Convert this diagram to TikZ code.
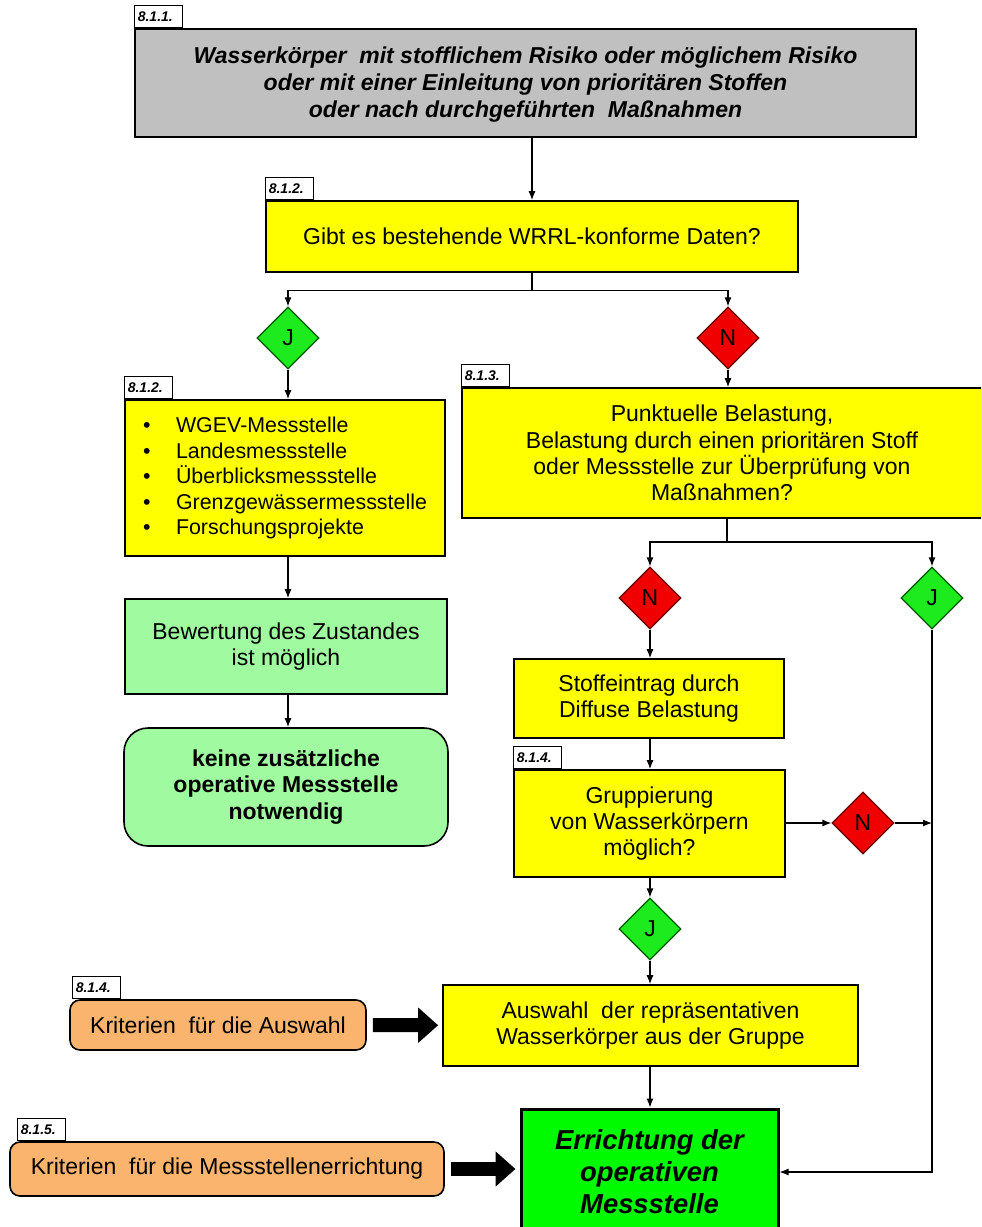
\documentclass[tikz,border=0pt]{standalone}
\usepackage{fontspec}
\setmainfont{Liberation Sans}
\usepackage{tikz}
\usetikzlibrary{positioning, shapes.geometric, arrows.meta}

\definecolor{boxgray}{RGB}{192,192,192}
\definecolor{boxyellow}{RGB}{255,255,0}
\definecolor{boxpale}{RGB}{160,250,160}
\definecolor{boxorange}{RGB}{250,180,110}
\definecolor{boxgreen}{RGB}{0,250,0}
\definecolor{decj}{RGB}{30,235,30}
\definecolor{decn}{RGB}{240,0,0}

\tikzset{
  box/.style={draw, line width=0.8pt, align=center, inner sep=2pt, font=\fontsize{11.5}{13.2}\selectfont},
  tab/.style={draw, fill=white, line width=0.6pt, anchor=south west, inner sep=1.5pt, text width=21pt, minimum height=11pt, align=left, font=\fontsize{7}{7.5}\selectfont\bfseries\itshape},
  dec/.style={diamond, draw, line width=0.6pt, minimum width=31pt, minimum height=31pt, inner sep=0pt, font=\fontsize{11.5}{13}\selectfont},
  decyes/.style={dec, fill=decj, draw=green!35!black},
  decno/.style={dec, fill=decn, draw=red!40!black},
  conn/.style={line width=0.6pt, -{Latex[length=4.5pt,width=3.5pt]}},
  bigarrow/.style={line width=7pt, -{Triangle[length=10pt,width=17pt]}}
}

\begin{document}
\begin{tikzpicture}[x=0.5pt,y=-0.5pt]
\clip (0,0) rectangle (981,1227);

% top of the chart
\node[box, fill=boxgray, minimum width=390.5pt, minimum height=54pt, font=\fontsize{11.5}{13.5}\selectfont\bfseries\itshape] (start) at (525.5,83) {\strut Wasserkörper~ mit stofflichem Risiko oder möglichem Risiko\\oder mit einer Einleitung von prioritären Stoffen\\oder nach durchgeführten~ Maßnahmen};
\node[tab] (t811) at (start.north west) {8.1.1.};

\node[box, fill=boxyellow, minimum width=266pt, minimum height=35.5pt] (daten) at (532,236.5) {Gibt es bestehende WRRL-konforme Daten?};
\node[tab] (t812a) at (daten.north west) {8.1.2.};

\node[decyes] (j1) at (288,338) {J};
\node[decno] (n1) at (728,338) {N};

% left branch
\node[box, fill=boxyellow, minimum width=160pt, minimum height=78pt, align=left, font=\fontsize{10.7}{12.75}\selectfont] (liste) at (285,478) {\textbullet\hspace{12.75pt}WGEV-Messstelle\\\textbullet\hspace{12.75pt}Landesmessstelle\\\textbullet\hspace{12.75pt}Überblicksmessstelle\\\textbullet\hspace{12.75pt}Grenzgewässermessstelle\\\textbullet\hspace{12.75pt}Forschungsprojekte};
\node[tab] (t812b) at (liste.north west) {8.1.2.};

\node[box, fill=boxpale, minimum width=161pt, minimum height=47.5pt] (bewert) at (286,646.5) {Bewertung des Zustandes\\ist möglich};
\node[box, fill=boxpale, rounded corners=12pt, minimum width=162pt, minimum height=59pt, font=\fontsize{11.5}{13.2}\selectfont\bfseries] (keine) at (286,787) {keine zusätzliche\\operative Messstelle\\notwendig};

% right branch
\node[box, fill=boxyellow, minimum width=260pt, minimum height=65pt] (punkt) at (722,453) {Punktuelle Belastung,\\Belastung durch einen prioritären Stoff\\oder Messstelle zur Überprüfung von\\Maßnahmen?};
\node[tab] (t813) at (punkt.north west) {8.1.3.};

\coordinate (split) at (727,542);
\node[decno] (n2) at (650,598) {N};
\node[decyes] (j2) at (932,598) {J};

\node[box, fill=boxyellow, minimum width=135pt, minimum height=39.5pt] (diffus) at (649,698.5) {Stoffeintrag durch\\Diffuse Belastung};
\node[box, fill=boxyellow, minimum width=135.5pt, minimum height=53.5pt] (grupp) at (649.5,823.5) {Gruppierung\\von Wasserkörpern\\möglich?};
\node[tab] (t814a) at (grupp.north west) {8.1.4.};

\node[decno] (n3) at (863,823) {N};
\node[decyes] (j3) at (650,929) {J};

\node[box, fill=boxyellow, minimum width=207.5pt, minimum height=40.5pt] (auswahl) at (650.5,1025.5) {Auswahl~ der repräsentativen\\Wasserkörper aus der Gruppe};
\node[box, fill=boxgreen, line width=1.5pt, minimum width=128.5pt, minimum height=63pt, font=\fontsize{13.7}{16}\selectfont\bfseries\itshape] (errich) at (649.5,1172) {Errichtung der\\operativen\\Messstelle};

% criteria
\node[box, fill=boxorange, rounded corners=5pt, minimum width=148pt, minimum height=25pt] (krit1) at (218,1025) {Kriterien~ für die Auswahl};
\node[tab, xshift=1.5pt] (t814b) at (krit1.north west) {8.1.4.};
\node[box, fill=boxorange, rounded corners=5pt, minimum width=217pt, minimum height=27pt] (krit2) at (227,1169) {Kriterien~ für die Messstellenerrichtung};
\node[tab, xshift=4pt] (t815) at (krit2.north west) {8.1.5.};

% connectors
\draw[conn] (daten.north |- start.south) -- (daten.north);
\draw[conn] (daten.south) -- ++(0,18) -| (j1.north);
\draw[conn] (daten.south) -- ++(0,18) -| (n1.north);
\draw[conn] (j1.south) -- (j1.south |- liste.north);
\draw[conn] (n1.south) -- (n1.south |- punkt.north);
\draw[conn] (liste.south -| j1) -- (bewert.north -| j1);
\draw[conn] (bewert.south -| j1) -- (keine.north -| j1);
\draw[line width=0.6pt] (punkt.south -| split) -- (split);
\draw[conn] (split) -| (n2.north);
\draw[conn] (split) -| (j2.north);
\draw[conn] (n2.south) -- (n2.south |- diffus.north);
\draw[conn] (diffus.south -| n2) -- (grupp.north -| n2);
\draw[conn] (grupp.east |- n3) -- (n3.west);
\draw[conn] (n3.east) -- (n3.east -| j2);
\draw[conn] (j2.south) |- (errich.east);
\draw[conn] (grupp.south -| j3) -- (j3.north);
\draw[conn] (j3.south) -- (j3.south |- auswahl.north);
\draw[conn] (auswahl.south -| j3) -- (errich.north -| j3);
\draw[bigarrow, shorten <=3pt, shorten >=2pt] (krit1) -- (auswahl);
\draw[bigarrow, shorten <=3pt, shorten >=2pt] (krit2.east) -- (krit2.east -| errich.west);
\end{tikzpicture}
\end{document}
